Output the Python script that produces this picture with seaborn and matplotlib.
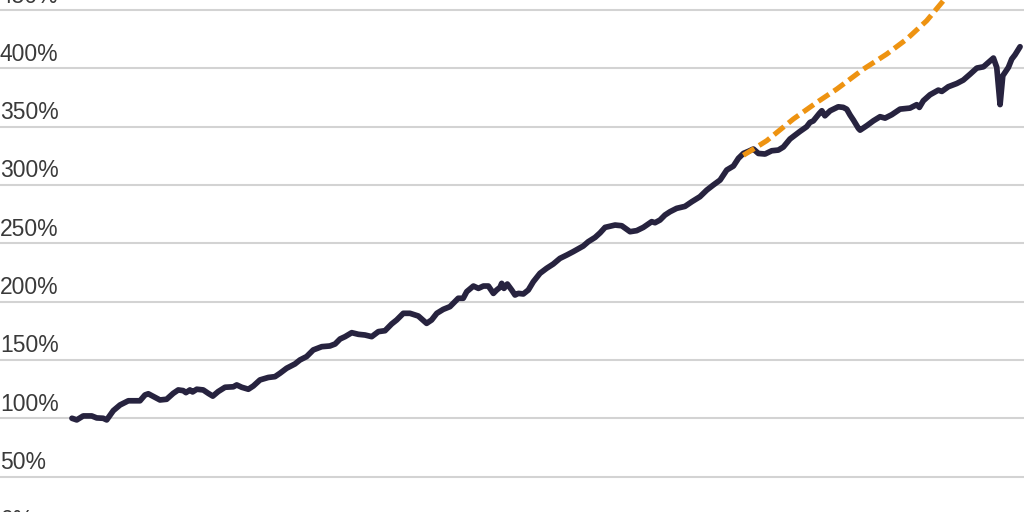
import pandas as pd
import matplotlib
matplotlib.use("Agg")
import matplotlib.pyplot as plt
import matplotlib.transforms as mtransforms
import seaborn as sns

# actual series (index, % of start), x in fractional years
years = [
    1975.50, 1975.73, 1976.04, 1976.45, 1976.69, 1977.00, 1977.17, 1977.49, 1977.81, 1978.21,
    1978.77, 1979.01, 1979.17, 1979.49, 1979.73, 1980.05, 1980.37, 1980.61, 1980.85, 1980.98,
    1981.17, 1981.30, 1981.50, 1981.81, 1982.05, 1982.27, 1982.53, 1982.86, 1983.26, 1983.42,
    1983.66, 1983.98, 1984.22, 1984.54, 1984.94, 1985.26, 1985.50, 1985.82, 1986.22, 1986.46,
    1986.78, 1987.10, 1987.51, 1987.90, 1988.15, 1988.39, 1988.63, 1988.95, 1989.27, 1989.59,
    1989.91, 1990.23, 1990.55, 1990.87, 1991.11, 1991.43, 1991.75, 1992.15, 1992.55, 1992.79,
    1993.04, 1993.35, 1993.67, 1994.07, 1994.31, 1994.48, 1994.80, 1995.04, 1995.28, 1995.52,
    1995.76, 1995.92, 1996.08, 1996.16, 1996.27, 1996.43, 1996.64, 1996.80, 1996.96, 1997.20,
    1997.44, 1997.68, 1998.00, 1998.32, 1998.64, 1998.96, 1999.29, 1999.60, 2000.08, 2000.32,
    2000.65, 2000.89, 2001.13, 2001.61, 2001.93, 2002.33, 2002.65, 2002.97, 2003.37, 2003.53,
    2003.77, 2004.01, 2004.25, 2004.57, 2004.97, 2005.30, 2005.69, 2006.02, 2006.33, 2006.66,
    2006.98, 2007.30, 2007.54, 2007.78, 2008.02, 2008.26, 2008.50, 2008.82, 2009.14, 2009.46,
    2009.70, 2010.02, 2010.50, 2010.82, 2010.98, 2011.14, 2011.43, 2011.55, 2011.70, 2011.95,
    2012.34, 2012.58, 2012.75, 2012.91, 2013.07, 2013.31, 2013.39, 2013.71, 2014.03, 2014.35,
    2014.59, 2014.91, 2015.31, 2015.79, 2016.11, 2016.24, 2016.43, 2016.75, 2017.15, 2017.32,
    2017.63, 2018.04, 2018.35, 2018.68, 2019.00, 2019.32, 2019.56, 2019.80, 2019.96, 2020.12,
    2020.25, 2020.52, 2020.68, 2020.84, 2021.08,
]
actual = [
    100.0, 98.6, 102.0, 102.0, 100.3, 100.0, 98.6, 106.6, 111.4, 115.0,
    115.0, 120.0, 121.0, 118.0, 115.7, 116.3, 121.4, 124.3, 123.7, 122.0,
    124.3, 122.6, 124.9, 124.3, 121.4, 119.0, 122.9, 126.6, 127.0, 128.6,
    126.6, 124.9, 127.7, 132.9, 135.0, 135.7, 138.6, 142.9, 146.6, 150.0,
    152.9, 158.6, 161.4, 162.0, 163.7, 168.0, 170.0, 173.4, 172.0, 171.4,
    170.0, 174.3, 175.1, 180.9, 184.3, 190.0, 190.0, 187.7, 181.4, 184.3,
    190.0, 193.4, 195.7, 202.9, 202.9, 208.6, 213.4, 211.4, 213.4, 213.4,
    207.1, 210.0, 212.3, 215.7, 211.4, 215.1, 210.0, 205.7, 207.1, 206.6,
    210.0, 217.1, 224.3, 228.6, 232.3, 237.1, 240.0, 242.9, 247.7, 251.4,
    255.1, 259.0, 263.7, 265.7, 265.1, 260.0, 260.9, 263.7, 268.6, 267.7,
    270.0, 274.3, 277.1, 280.0, 281.7, 285.7, 290.0, 295.7, 300.0, 304.3,
    312.9, 316.3, 322.9, 327.1, 328.9, 330.9, 327.1, 326.6, 329.4, 330.0,
    332.6, 339.5, 346.0, 350.0, 353.7, 355.0, 361.4, 363.7, 359.4, 363.7,
    367.1, 366.6, 365.0, 360.0, 355.7, 348.6, 347.1, 350.9, 355.1, 358.6,
    357.4, 360.3, 365.1, 366.0, 368.9, 366.6, 372.3, 377.4, 381.4, 380.3,
    384.3, 387.1, 390.0, 395.1, 400.3, 401.4, 405.1, 408.9, 400.9, 369.0,
    393.7, 400.9, 408.0, 411.7, 418.6,
]

# pre-recession trend line
trend_years = [2007.78, 2008.90, 2010.18, 2011.31, 2012.27, 2013.55, 2014.67,
               2015.63, 2016.59, 2017.39, 2018.20]
trend = [325.5, 338.0, 356.6, 370.9, 382.3, 399.4, 412.3, 425.1, 440.9, 458.0, 470.0]

yticks = [0, 50, 100, 150, 200, 250, 300, 350, 400, 450]
ytick_labels = [f"{t}%" for t in yticks]

navy = "#27233f"
orange = "#ee9311"

sns.set_style("white")
plt.rcParams["font.family"] = ["Liberation Sans", "DejaVu Sans"]

fig = plt.figure(figsize=(10.24, 5.12), dpi=100)
ax = fig.add_axes([0, -0.0447, 1, 1.0477])

df_actual = pd.DataFrame({"year": years, "value": actual})
df_trend = pd.DataFrame({"year": trend_years, "value": trend})

sns.lineplot(data=df_actual, x="year", y="value", ax=ax, color=navy,
             linewidth=4.1, zorder=3)
sns.lineplot(data=df_trend, x="year", y="value", ax=ax, color=orange,
             linewidth=3.7, zorder=4)
ax.lines[-1].set_dashes((2.5, 1.1))
ax.lines[0].set_solid_joinstyle("round")

ax.set_xlim(1972.04, 2021.27)
ax.set_ylim(0, 460)

for t in yticks:
    ax.axhline(t, color="#d3d3d3", linewidth=1.5, zorder=1)

trans = mtransforms.blended_transform_factory(ax.transAxes, ax.transData)
for t, lab in zip(yticks, ytick_labels):
    ax.text(0.0, t + 6.5, lab, transform=trans, ha="left", va="baseline",
            fontsize=16.5, color="#3a3a3a", zorder=2)

ax.set_xticks([])
ax.set_yticks([])
ax.set_xlabel("")
ax.set_ylabel("")
for s in ax.spines.values():
    s.set_visible(False)

fig.savefig("out.png", dpi=100)
